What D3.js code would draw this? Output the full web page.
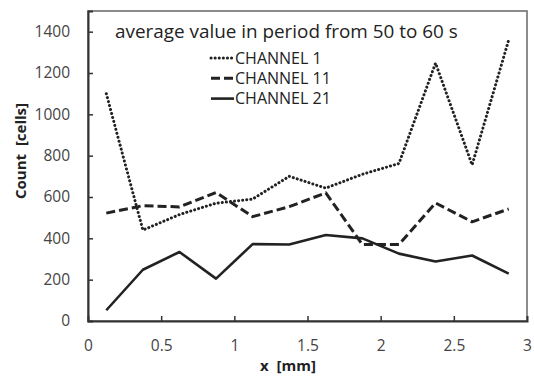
<!DOCTYPE html>
<html>
<head>
<meta charset="utf-8">
<script src="https://cdn.jsdelivr.net/npm/d3@7"></script>
<style>
  body { margin: 0; background: #fff; }
  svg text { font-family: "Open Sans", "Noto Sans", sans-serif; }
</style>
</head>
<body>
<svg id="chart" width="534" height="378"></svg>
<script>
// positions along x (mm), bin centres
const xs = [0.125, 0.375, 0.625, 0.875, 1.125, 1.375, 1.625, 1.875, 2.125, 2.375, 2.625, 2.875];
const channel1 = [1100, 440, 515, 570, 590, 700, 643, 710, 762, 1248, 755, 1360];
const channel11 = [522, 558, 552, 622, 505, 553, 620, 370, 370, 571, 480, 542];
const channel21 = [52, 248, 334, 205, 372, 370, 416, 400, 326, 288, 317, 229];
const xTicks = [0, 0.5, 1, 1.5, 2, 2.5, 3];
const yTicks = [0, 200, 400, 600, 800, 1000, 1200, 1400];
const seriesNames = ["CHANNEL 1", "CHANNEL 11", "CHANNEL 21"];
const titleText = "average value in period from 50 to 60 s";

const margin = { top: 11, right: 7, bottom: 57, left: 88 };
const svg = d3.select("#chart");
const width = 534 - margin.left - margin.right;
const height = 378 - margin.top - margin.bottom;

const g = svg.append("g")
    .attr("transform", `translate(${margin.left},${margin.top})`);

const x = d3.scaleLinear().domain([0, 3]).range([0, width]);
const y = d3.scaleLinear().domain([0, 1500]).range([height, 0]);

// frame
g.append("rect")
    .attr("width", width)
    .attr("height", height)
    .attr("fill", "none")
    .attr("stroke", "#666")
    .attr("stroke-width", 1.5);

// axes (ticks point inward)
const xAxis = g.append("g")
    .attr("transform", `translate(0,${height})`)
    .call(d3.axisBottom(x).tickValues(xTicks).tickSize(-5).tickPadding(19).tickFormat(d3.format("~g")));
const yAxis = g.append("g")
    .call(d3.axisLeft(y).tickValues(yTicks).tickSize(-5).tickPadding(18).tickFormat(d3.format("d")));

[xAxis, yAxis].forEach(a => {
    a.select(".domain").attr("stroke", "#333").attr("stroke-width", 2);
    a.selectAll(".tick line").attr("stroke", "#333").attr("stroke-width", 1.5);
    a.selectAll(".tick text").attr("fill", "#444").style("font-size", "15.5px");
});
xAxis.selectAll(".tick").filter(d => d === 0 || d === 3).select("line").remove();
yAxis.selectAll(".tick").filter(d => d === 0).select("line").remove();

// lines
const styles = [
    { data: channel1, dash: "0.1 4", width: 3, cap: "round" },
    { data: channel11, dash: "9 4", width: 3, cap: "butt" },
    { data: channel21, dash: null, width: 2.6, cap: "butt" }
];
const line = d3.line().x((d, i) => x(xs[i])).y(d => y(d));

styles.forEach(s => {
    g.append("path")
        .datum(s.data)
        .attr("d", line)
        .attr("fill", "none")
        .attr("stroke", "#222")
        .attr("stroke-width", s.width)
        .attr("stroke-linecap", s.cap)
        .attr("stroke-linejoin", "round")
        .attr("stroke-dasharray", s.dash);
});

// title
const title = svg.append("text")
    .attr("x", 115)
    .attr("y", 38)
    .attr("fill", "#222")
    .style("font-size", "16px")
    .text(titleText);
// fit to the reference width
const tw = title.node().getComputedTextLength();
title.style("font-size", (16 * 343 / tw).toFixed(2) + "px");

// legend
const legend = svg.append("g").attr("transform", "translate(210,58)");
styles.forEach((s, i) => {
    const row = legend.append("g").attr("transform", `translate(0,${i * 20.3})`);
    row.append("line")
        .attr("x1", 1).attr("x2", 24)
        .attr("stroke", "#222")
        .attr("stroke-width", s.width)
        .attr("stroke-linecap", s.cap)
        .attr("stroke-dasharray", s.dash);
    row.append("text")
        .attr("x", 25)
        .attr("dy", "0.35em")
        .attr("fill", "#222")
        .style("font-size", "16px")
        .text(seriesNames[i]);
});

// axis labels
svg.append("text")
    .attr("x", 288)
    .attr("y", 371)
    .attr("text-anchor", "middle")
    .attr("fill", "#222")
    .style("font-size", "15px")
    .style("font-weight", "bold")
    .text("x\u00a0\u00a0[mm]");

svg.append("text")
    .attr("transform", "rotate(-90)")
    .attr("x", -151)
    .attr("y", 26)
    .attr("text-anchor", "middle")
    .attr("fill", "#222")
    .style("font-size", "15px")
    .style("font-weight", "bold")
    .text("Count\u00a0\u00a0[cells]");
</script>
</body>
</html>
